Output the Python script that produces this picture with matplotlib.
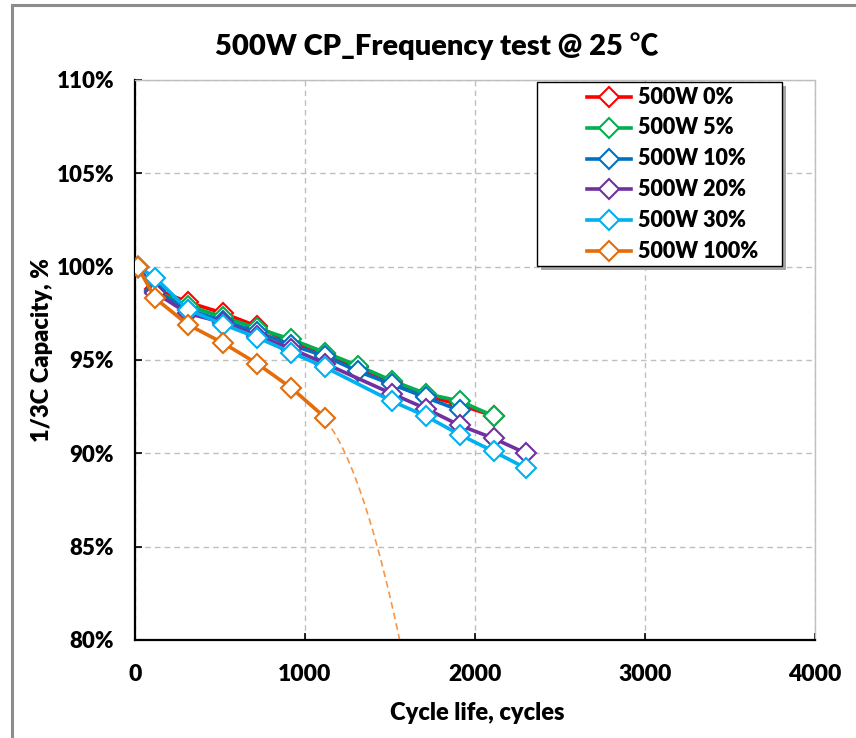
import numpy as np
import matplotlib
matplotlib.use("Agg")
import matplotlib.pyplot as plt
from matplotlib.patches import Rectangle
from matplotlib.lines import Line2D

plt.rcParams['font.family'] = ['Lato', 'Noto Sans CJK SC', 'DejaVu Sans']
plt.rcParams['font.weight'] = 'heavy'
WT = 'heavy'

# cycle counts and 1/3C capacity retention (%) per duty setting
x_0 = [15, 120, 310, 520, 720, 920, 1120, 1310, 1510, 1710, 1910, 2110]
y_0 = [100.0, 98.8, 98.1, 97.5, 96.8, 95.9, 95.3, 94.6, 93.8, 93.1, 92.6, 92.0]

x_5 = [15, 120, 310, 520, 720, 920, 1120, 1310, 1510, 1710, 1910, 2110]
y_5 = [100.0, 98.7, 97.9, 97.3, 96.7, 96.1, 95.4, 94.7, 93.9, 93.2, 92.8, 92.0]

x_10 = [15, 120, 310, 520, 720, 920, 1120, 1310, 1510, 1710, 1910]
y_10 = [100.0, 98.7, 97.7, 97.1, 96.5, 95.8, 95.2, 94.4, 93.7, 93.0, 92.3]

x_20 = [15, 120, 310, 520, 720, 920, 1120, 1510, 1710, 1910, 2110, 2300]
y_20 = [100.0, 98.6, 97.5, 97.0, 96.3, 95.6, 94.8, 93.2, 92.4, 91.5, 90.8, 90.0]

x_30 = [15, 120, 310, 520, 720, 920, 1120, 1510, 1710, 1910, 2110, 2300]
y_30 = [100.0, 99.4, 97.7, 96.9, 96.2, 95.4, 94.6, 92.8, 92.0, 91.0, 90.1, 89.2]

x_100 = [15, 120, 310, 520, 720, 920, 1120]
y_100 = [100.0, 98.3, 96.9, 95.9, 94.8, 93.5, 91.9]

# projected fade of the 100% case beyond the last measured point
trend_x = [1120, 1225, 1431, 1555]
trend_y = [91.9, 90.0, 85.0, 80.0]

labels = ['500W 0%', '500W 5%', '500W 10%', '500W 20%', '500W 30%', '500W 100%']
colors = ['#FF0000', '#00B050', '#0070C0', '#7030A0', '#00B0F0', '#E46C0A']
series = [(x_0, y_0), (x_5, y_5), (x_10, y_10), (x_20, y_20), (x_30, y_30), (x_100, y_100)]

W, H = 856, 738
fig = plt.figure(figsize=(W / 100, H / 100), dpi=100)
ax = fig.add_axes([135 / W, 1 - 640 / H, 680 / W, 560 / H])


def fx(px):
    return px / W


def fy(py):
    return 1 - py / H


# outer chart frame
fig.add_artist(Rectangle((fx(12), -0.05), 1.2, fy(5) + 0.05,
                         transform=fig.transFigure, fill=False,
                         edgecolor='#8C8C8C', linewidth=2.2, zorder=0))

mkw = dict(marker='D', markersize=10.5, markerfacecolor='white', markeredgewidth=1.5)
for (xs, ys), lab, c in zip(series, labels, colors):
    ax.plot(xs, ys, color=c, lw=2.6, markeredgecolor=c, label=lab, zorder=3, **mkw)

coef = np.polyfit(trend_x, trend_y, 2)
tx = np.linspace(trend_x[0], 1600, 200)
ax.plot(tx, np.polyval(coef, tx), color='#F79646', lw=1.2, ls=(0, (4, 2.5)), zorder=2)

ax.set_xlim(0, 4000)
ax.set_ylim(80, 110)
ax.set_xticks([0, 1000, 2000, 3000, 4000])
ax.set_yticks([80, 85, 90, 95, 100, 105, 110])
ax.set_yticklabels([f'{v}%' for v in [80, 85, 90, 95, 100, 105, 110]])
ax.tick_params(direction='in', length=5, width=1.2, labelsize=16)
ax.tick_params(axis='y', pad=15)
ax.tick_params(axis='x', pad=17, labelsize=16.5)
for t in ax.get_xticklabels() + ax.get_yticklabels():
    t.set_fontweight(WT)

ax.grid(True, color='#BFBFBF', ls=(0, (4, 3)), lw=1.0)
ax.set_axisbelow(True)
for s in ['left', 'bottom']:
    ax.spines[s].set_color('black')
    ax.spines[s].set_linewidth(1.6)
for s in ['top', 'right']:
    ax.spines[s].set_color('#BFBFBF')
    ax.spines[s].set_linewidth(1.0)

fig.text(fx(477), fy(713), 'Cycle life, cycles', ha='center', va='center',
         fontsize=17, fontweight=WT)
fig.text(fx(42), fy(350), '1/3C Capacity, %', ha='center', va='center',
         rotation=90, fontsize=17, fontweight=WT)
fig.text(fx(437), fy(46), '500W CP_Frequency test @ 25 ℃',
         ha='center', va='center', fontsize=21, fontweight=WT)

# legend box with drop shadow
lx0, lx1, ly0, ly1 = 537, 782, 82, 266
fig.add_artist(Rectangle((fx(lx0 + 4), fy(ly1 + 4)), fx(lx1) - fx(lx0), fy(ly0) - fy(ly1),
                         transform=fig.transFigure, facecolor='#A6A6A6',
                         edgecolor='none', zorder=5))
fig.add_artist(Rectangle((fx(lx0), fy(ly1)), fx(lx1) - fx(lx0), fy(ly0) - fy(ly1),
                         transform=fig.transFigure, facecolor='white',
                         edgecolor='black', linewidth=1.0, zorder=6))
for i, (lab, c) in enumerate(zip(labels, colors)):
    yy = fy(97 + i * 30.8)
    fig.add_artist(Line2D([fx(587), fx(631)], [yy, yy], transform=fig.transFigure,
                          color=c, lw=2.6, zorder=7))
    fig.add_artist(Line2D([fx(609)], [yy], transform=fig.transFigure,
                          color=c, markeredgecolor=c, zorder=8, **mkw))
    fig.text(fx(638), yy, lab, ha='left', va='center', fontsize=15.5,
             fontweight=WT, zorder=9)

fig.savefig('out.png', dpi=100)
